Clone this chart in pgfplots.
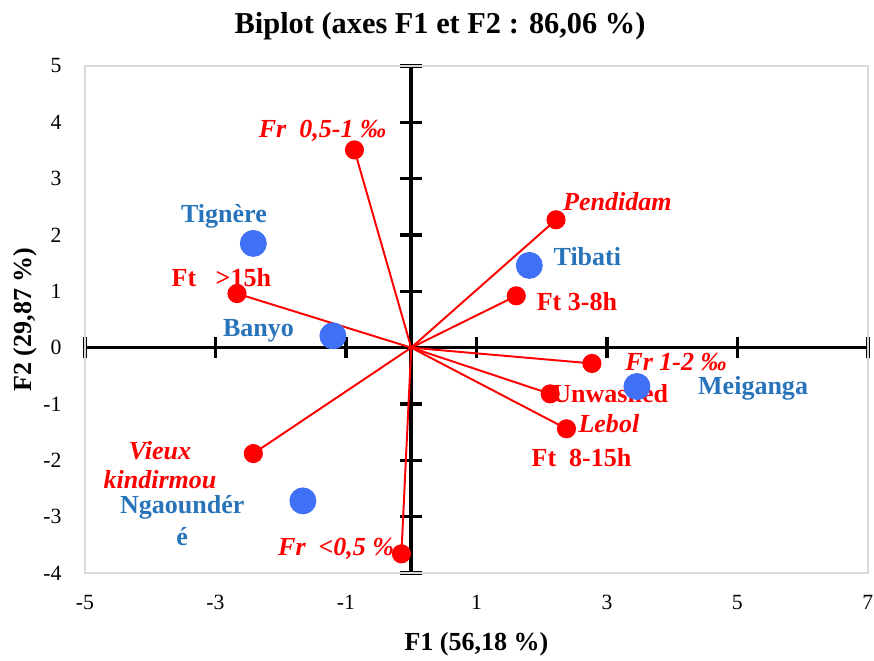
\documentclass[border=0pt]{standalone}
\usepackage{fontspec}
\setmainfont{Liberation Serif}
\usepackage{pgfplots}
\pgfplotsset{compat=1.18}
\definecolor{vred}{RGB}{255,0,0}
\definecolor{obsblue}{RGB}{64,112,245}
\definecolor{txtblue}{RGB}{40,116,186}
\begin{document}
\begin{tikzpicture}
\useasboundingbox (-39.19pt,-40.12pt) rectangle (363.81pt,264.21pt);
% middle axes with crossing ticks
\begin{axis}[at={(0,0)}, anchor=south west, scale only axis,
  width=361pt, height=233.8pt,
  xmin=-5, xmax=7, ymin=-4, ymax=5, enlargelimits=false,
  axis lines=middle, axis line style={-, black, line width=1.6pt},
  xtick={-5,-3,-1,1,3,5,7}, ytick={-4,-3,-2,-1,0,1,2,3,4,5},
  xticklabels={}, yticklabels={},
  tick align=center, major tick length=10pt,
  tick style={black, line width=1.6pt}]
\end{axis}
% box axis with labels and data
\begin{axis}[at={(0,0)}, anchor=south west, scale only axis,
  width=361pt, height=233.8pt,
  xmin=-5, xmax=7, ymin=-4, ymax=5, enlargelimits=false,
  axis line style={draw=black!15, line width=0.6pt},
  xtick={-5,-3,-1,1,3,5,7}, ytick={-4,-3,-2,-1,0,1,2,3,4,5},
  major tick length=0pt, tick style={draw=none},
  /pgf/number format/assume math mode=true,
  ticklabel style={font=\fontsize{10}{12}\selectfont},
  xticklabel style={yshift=-6.9pt},
  yticklabel style={xshift=-7.3pt},
  xlabel={F1 (56,18 \%)}, ylabel={F2 (29,87 \%)},
  xlabel style={font=\fontsize{12}{14}\selectfont\bfseries, at={([yshift=-32.7pt]axis description cs:0.5,0)}, anchor=center},
  ylabel style={font=\fontsize{12}{14}\selectfont\bfseries, at={([xshift=-27.7pt]axis description cs:0,0.5)}, anchor=center},
  title={Biplot (axes F1 et F2 : 86,06 \%)},
  title style={font=\fontsize{14}{17}\selectfont\bfseries, at={([yshift=12.4pt]axis description cs:0.4535,1)}, anchor=center},
  clip=false]
% observations
\addplot[only marks, mark=*, mark size=6pt, color=obsblue] coordinates {
  (-2.42,1.85) (1.81,1.46) (-1.20,0.21) (3.46,-0.69) (-1.66,-2.72)};
% variable vectors
\addplot[vred, line width=0.9pt] coordinates {(0,0) (-0.87,3.51)};
\addplot[vred, line width=0.9pt] coordinates {(0,0) (2.22,2.27)};
\addplot[vred, line width=0.9pt] coordinates {(0,0) (-2.67,0.96)};
\addplot[vred, line width=0.9pt] coordinates {(0,0) (1.61,0.92)};
\addplot[vred, line width=0.9pt] coordinates {(0,0) (2.77,-0.28)};
\addplot[vred, line width=0.9pt] coordinates {(0,0) (2.13,-0.82)};
\addplot[vred, line width=0.9pt] coordinates {(0,0) (2.38,-1.44)};
\addplot[vred, line width=0.9pt] coordinates {(0,0) (-2.42,-1.88)};
\addplot[vred, line width=0.9pt] coordinates {(0,0) (-0.15,-3.66)};
\addplot[only marks, mark=*, mark size=4.2pt, color=vred] coordinates {
  (-0.87,3.51) (2.22,2.27) (-2.67,0.96) (1.61,0.92) (2.77,-0.28)
  (2.13,-0.82) (2.38,-1.44) (-2.42,-1.88) (-0.15,-3.66)};
% labels
\begin{scope}[every node/.style={inner sep=0pt, font=\fontsize{12}{14}\selectfont\bfseries}]
\node[vred, font=\fontsize{12}{14}\selectfont\bfseries\itshape] at (axis cs:-1.36,3.85) {Fr\ \ 0,5-1 ‰};
\node[vred, font=\fontsize{12}{14}\selectfont\bfseries\itshape] at (axis cs:3.16,2.59) {Pendidam};
\node[vred] at (axis cs:-2.91,1.24) {Ft\ \ \ >15h};
\node[vred] at (axis cs:2.54,0.82) {Ft 3-8h};
\node[vred, font=\fontsize{12}{14}\selectfont\bfseries\itshape] at (axis cs:4.06,-0.25) {Fr 1-2 ‰};
\node[vred] at (axis cs:3.05,-0.82) {Unwashed};
\node[vred, font=\fontsize{12}{14}\selectfont\bfseries\itshape] at (axis cs:3.03,-1.35) {Lebol};
\node[vred] at (axis cs:2.61,-1.95) {Ft\ \ 8-15h};
\node[vred, align=center, font=\fontsize{12}{13.4}\selectfont\bfseries\itshape] at (axis cs:-3.85,-2.09) {Vieux\\kindirmou};
\node[vred, font=\fontsize{12}{14}\selectfont\bfseries\itshape] at (axis cs:-1.15,-3.57) {Fr\ \ <0,5 \%};
\node[txtblue] at (axis cs:-2.87,2.33) {Tignère};
\node[txtblue] at (axis cs:-2.34,0.30) {Banyo};
\node[txtblue] at (axis cs:2.70,1.62) {Tibati};
\node[txtblue] at (axis cs:5.24,-0.73) {Meiganga};
\node[txtblue, align=center, font=\fontsize{12}{14.8}\selectfont\bfseries] at (axis cs:-3.51,-3.07) {Ngaoundér\\é};
\end{scope}
\end{axis}
\end{tikzpicture}
\end{document}
